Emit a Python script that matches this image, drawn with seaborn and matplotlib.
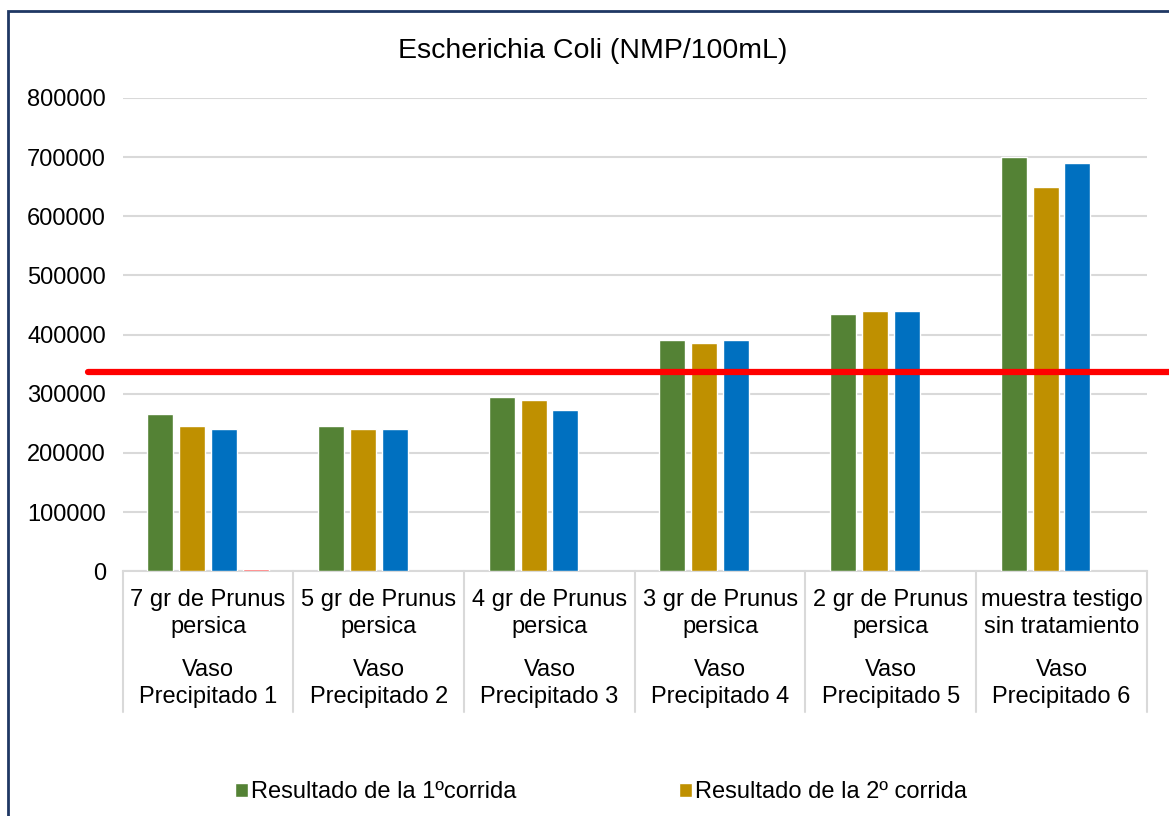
import pandas as pd
import matplotlib
matplotlib.use("Agg")
import matplotlib.pyplot as plt
from matplotlib.patches import Patch, Rectangle
import seaborn as sns

# =====================================================
# DATA
# =====================================================
tratamientos = [
    "7 gr de Prunus\npersica",
    "5 gr de Prunus\npersica",
    "4 gr de Prunus\npersica",
    "3 gr de Prunus\npersica",
    "2 gr de Prunus\npersica",
    "muestra testigo\nsin tratamiento",
]
vasos = [
    "Vaso\nPrecipitado 1",
    "Vaso\nPrecipitado 2",
    "Vaso\nPrecipitado 3",
    "Vaso\nPrecipitado 4",
    "Vaso\nPrecipitado 5",
    "Vaso\nPrecipitado 6",
]
series = [
    "Resultado de la 1ºcorrida",
    "Resultado de la 2º corrida",
    "Resultado de la 3º corrida",
    "Serie 4",
]
corrida_1 = [265000, 245000, 295000, 390000, 435000, 700000]
corrida_2 = [245000, 240000, 290000, 385000, 440000, 650000]
corrida_3 = [240000, 240000, 273000, 390000, 440000, 690000]
serie_4 = [3000, None, None, None, None, None]
limite = 337500

colores = ["#548235", "#BF9000", "#0070C0", "#FF5050"]

# =====================================================
# LONG TABLE FOR SEABORN
# =====================================================
filas = []
for nombre, valores in zip(series, [corrida_1, corrida_2, corrida_3, serie_4]):
    for i, v in enumerate(valores):
        filas.append({"grupo": i, "serie": nombre, "valor": v})
df = pd.DataFrame(filas)
df["valor"] = pd.to_numeric(df["valor"])

# =====================================================
# PLOT
# =====================================================
sns.set_theme(style="white")
plt.rcParams["font.family"] = ["Liberation Sans", "DejaVu Sans"]
plt.rcParams["text.color"] = "black"
plt.rcParams["ytick.color"] = "black"

fig = plt.figure(figsize=(11.69, 8.16), dpi=100)
ax = fig.add_axes([0.105, 0.300, 0.876, 0.580])

sns.barplot(
    data=df, x="grupo", y="valor", hue="serie",
    hue_order=series, palette=colores, saturation=1,
    width=0.745, gap=0.18, errorbar=None,
    legend=False, ax=ax, order=list(range(len(tratamientos)))
)
for p in ax.patches:
    p.set_zorder(3)

ax.set_xlim(-0.5, len(tratamientos) - 0.5)
ax.set_ylim(0, 800000)
ax.set_yticks(range(0, 800001, 100000))
ax.set_yticklabels([str(v) for v in range(0, 800001, 100000)], fontsize=17)
ax.tick_params(axis="y", length=0, pad=12)
ax.yaxis.grid(True, color="#D9D9D9", linewidth=1.5)
ax.set_axisbelow(True)
ax.set_xticks([])
ax.set_xlabel("")
ax.set_ylabel("")
for s in ["top", "left", "right"]:
    ax.spines[s].set_visible(False)
ax.spines["bottom"].set_color("#D9D9D9")
ax.spines["bottom"].set_linewidth(1.5)
ax.spines["bottom"].set_zorder(1)

# threshold line, runs past the plot area like in the reference
ax.axhline(limite, xmin=-0.034, xmax=1.03, color="#FF0000", linewidth=4.5,
           clip_on=False, zorder=5)

# =====================================================
# MULTI-LEVEL CATEGORY AXIS
# =====================================================
trans = ax.get_xaxis_transform()
for i, (t, v) in enumerate(zip(tratamientos, vasos)):
    ax.text(i, -0.089, t, transform=trans, ha="center", va="center",
            fontsize=17, linespacing=1.3)
    ax.text(i, -0.237, v, transform=trans, ha="center", va="center",
            fontsize=17, linespacing=1.3)
for b in range(len(tratamientos) + 1):
    ax.plot([b - 0.5, b - 0.5], [0, -0.298], transform=trans,
            color="#D9D9D9", linewidth=1.5, clip_on=False)

# =====================================================
# TITLE, LEGEND, BORDER
# =====================================================
fig.text(0.507, 0.938, "Escherichia Coli (NMP/100mL)", ha="center",
         va="center", fontsize=20.5)

handles = [Patch(facecolor=c) for c in colores[:2]]
fig.legend(handles, series[:2], loc="center", ncol=2,
           bbox_to_anchor=(0.514, 0.029), frameon=False, fontsize=17,
           handlelength=0.55, handleheight=0.55, handletextpad=0.12,
           columnspacing=6.9)

fig.patches.append(Rectangle((8 / 1169, -0.1), 2, 1.0865,
                             transform=fig.transFigure, fill=False,
                             edgecolor="#1F3864", linewidth=2))

plt.savefig("out.png", dpi=100)
plt.close()
